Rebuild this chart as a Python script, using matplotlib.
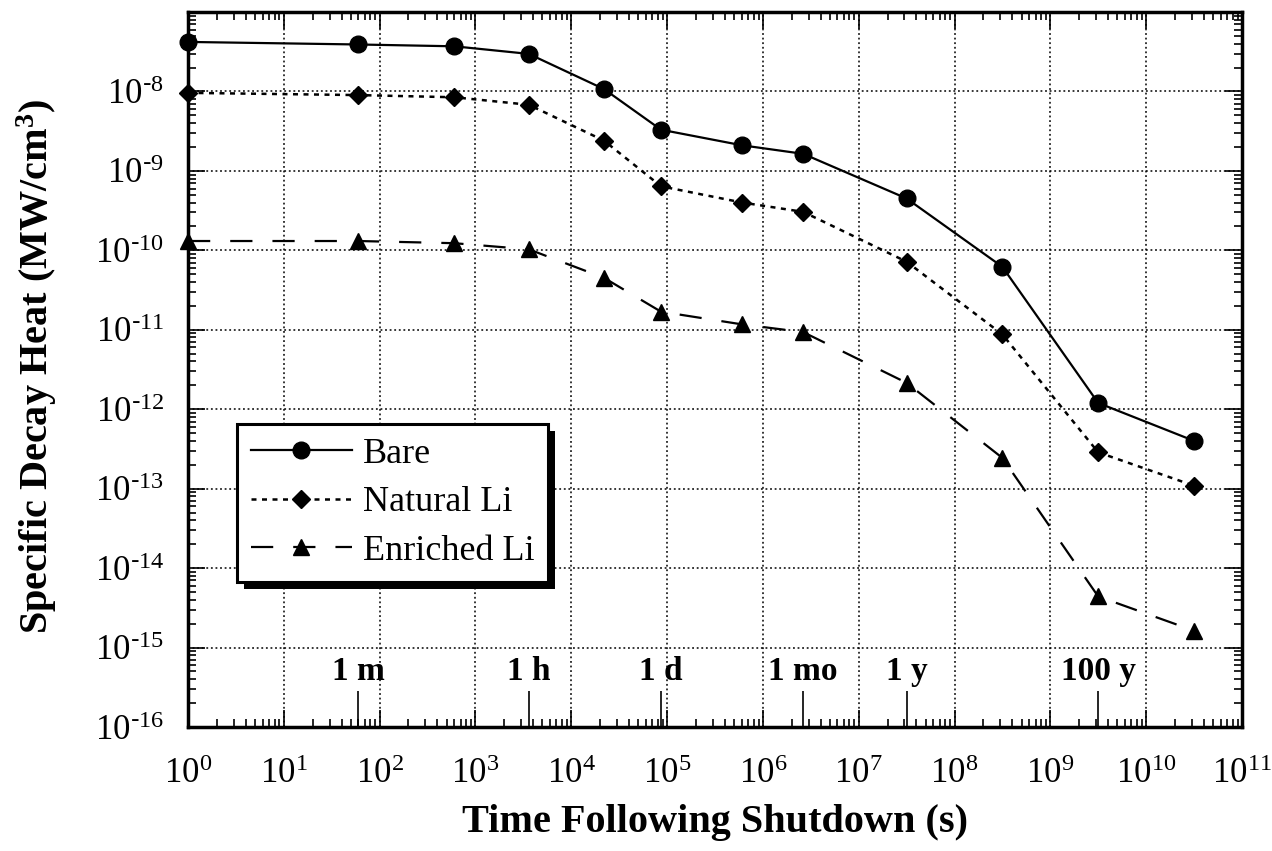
import numpy as np
import matplotlib.pyplot as plt
from matplotlib.ticker import FixedLocator, LogLocator, FuncFormatter, NullFormatter
from matplotlib.patches import Rectangle
from matplotlib.transforms import IdentityTransform

plt.rcParams['font.family'] = 'serif'
plt.rcParams['font.serif'] = ['Liberation Serif', 'DejaVu Serif']
plt.rcParams['axes.unicode_minus'] = False

# decay times after shutdown (s): 1 s, 1 m, 10 m, 1 h, ~6 h, 1 d, 1 wk, 1 mo, 1 y, 10 y, 100 y, 1000 y
time_s = [1, 60, 600, 3600, 2.2e4, 86400, 604800, 2.63e6, 3.156e7, 3.156e8, 3.156e9, 3.156e10]

# specific decay heat (MW/cm^3)
bare = [4.2e-8, 3.9e-8, 3.7e-8, 2.97e-8, 1.07e-8, 3.3e-9, 2.1e-9, 1.64e-9,
        4.5e-10, 6.2e-11, 1.2e-12, 4.0e-13]
natural_li = [9.6e-9, 9.0e-9, 8.45e-9, 6.8e-9, 2.4e-9, 6.4e-10, 4.0e-10, 3.05e-10,
              7.2e-11, 8.75e-12, 2.87e-13, 1.09e-13]
enriched_li = [1.31e-10, 1.31e-10, 1.23e-10, 1.03e-10, 4.5e-11, 1.69e-11, 1.17e-11, 9.35e-12,
               2.15e-12, 2.44e-13, 4.4e-15, 1.63e-15]

# reference time marks along the bottom axis
unit_times = [60, 3600, 86400, 2.63e6, 3.156e7, 3.156e9]
unit_labels = ['1 m', '1 h', '1 d', '1 mo', '1 y', '100 y']


def pow10(v, pos):
    # 10^n with a plain hyphen for negative exponents
    e = int(round(np.log10(v)))
    s = str(e).replace('-', r'\text{-}')
    return r'$\mathdefault{10^{%s}}$' % s


fig = plt.figure(figsize=(12.72, 8.51), dpi=100)
ax = fig.add_axes([0.1478, 0.1457, 0.8286, 0.8402])

ax.plot(time_s, bare, color='k', lw=1.6, marker='o', ms=12,
        clip_on=False, zorder=3, label='Bare')
ax.plot(time_s, natural_li, color='k', lw=1.8, ls=(0, (2, 2.2)), marker='D', ms=9.5,
        clip_on=False, zorder=3, label='Natural Li')
ax.plot(time_s, enriched_li, color='k', lw=1.6, ls=(0, (10, 9)), marker='^', ms=12,
        clip_on=False, zorder=3, label='Enriched Li')

ax.set_xscale('log')
ax.set_yscale('log')
ax.set_xlim(1, 1e11)
ax.set_ylim(1e-16, 1e-7)

ax.xaxis.set_major_locator(FixedLocator(10.0 ** np.arange(0, 12)))
ax.yaxis.set_major_locator(FixedLocator(10.0 ** np.arange(-16, -7)))
ax.xaxis.set_minor_locator(LogLocator(10, subs=np.arange(2, 10), numticks=100))
ax.yaxis.set_minor_locator(LogLocator(10, subs=np.arange(2, 10), numticks=100))
ax.xaxis.set_major_formatter(FuncFormatter(pow10))
ax.yaxis.set_major_formatter(FuncFormatter(pow10))
ax.xaxis.set_minor_formatter(NullFormatter())
ax.yaxis.set_minor_formatter(NullFormatter())

ax.grid(True, which='major', color='k', ls=(0, (1.2, 1.8)), lw=1.1)
ax.tick_params(which='both', direction='in', top=True, right=True, width=1.2)
ax.tick_params(which='major', length=12, labelsize=25)
ax.tick_params(which='minor', length=6)
ax.tick_params(axis='x', which='major', pad=22)
ax.tick_params(axis='y', which='major', pad=17)
for s in ax.spines.values():
    s.set_linewidth(2.5)

# longer ticks and bold labels for familiar time spans
ax.vlines(unit_times, 0, 0.05, transform=ax.get_xaxis_transform(), color='k', lw=1.2)
for t, lab in zip(unit_times, unit_labels):
    ax.text(t, 0.078, lab, transform=ax.get_xaxis_transform(), ha='center', va='center',
            fontsize=24, fontweight='bold')

ax.set_xlabel('Time Following Shutdown (s)', fontsize=29, fontweight='bold')
ax.set_ylabel(r'Specific Decay Heat (MW/cm$\mathdefault{^3}$)', fontsize=29, fontweight='bold')
ax.xaxis.set_label_coords(0.5, -0.108)
ax.yaxis.set_label_coords(-0.122, 0.505)

leg = ax.legend(loc='upper left', bbox_to_anchor=(0.0465, 0.4238), borderaxespad=0,
                fontsize=26, fancybox=False, edgecolor='k', framealpha=1,
                handlelength=2.8, labelspacing=0.42, borderpad=0.38, handletextpad=0.3)
leg.get_frame().set_linewidth(2.2)

# solid drop shadow behind the legend box
fig.canvas.draw()
bb = leg.get_frame().get_window_extent()
ax.add_patch(Rectangle((bb.x0 + 7, bb.y0 - 7), bb.width, bb.height, transform=IdentityTransform(),
                       fc='k', ec='none', zorder=leg.get_zorder() - 0.5, clip_on=False))

fig.savefig('out.png', dpi=100)
